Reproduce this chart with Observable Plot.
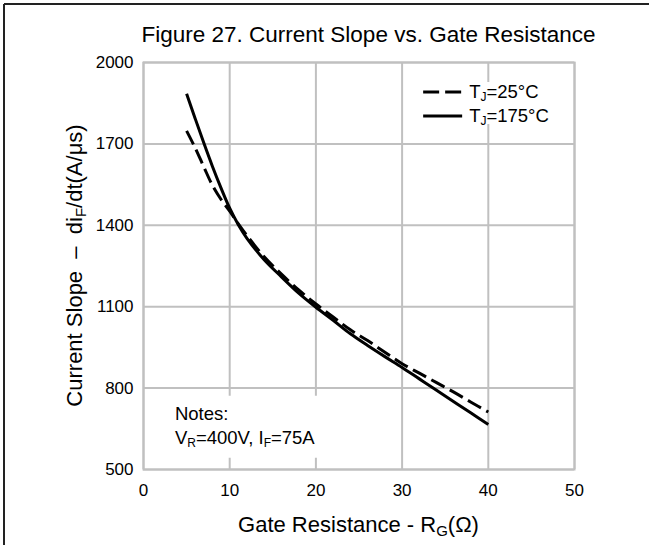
<!DOCTYPE html>
<html>
<head>
<meta charset="utf-8">
<script src="https://cdn.jsdelivr.net/npm/d3@7"></script>
<script src="https://cdn.jsdelivr.net/npm/@observablehq/plot@0.6"></script>
<style>
  html, body { margin: 0; padding: 0; background: #fff; }
  #chart { position: relative; width: 649px; height: 545px; }
  svg text { font-family: "Liberation Sans", Arial, sans-serif; }
</style>
</head>
<body>
<div id="chart"></div>
<script>
// ---- data ----
const rg = [5, 6, 7, 8, 9, 10, 11, 12, 14, 16, 18, 20, 22, 24, 26, 28, 30, 32, 34, 36, 38, 40];
const slope25 = [1748, 1685, 1615, 1547, 1495, 1452, 1405, 1362, 1284, 1220, 1162, 1110, 1062, 1015, 975, 932, 890, 855, 820, 785, 748, 712];
const slope175 = [1885, 1793, 1703, 1617, 1537, 1463, 1402, 1352, 1273, 1210, 1150, 1098, 1050, 1000, 957, 916, 876, 834, 792, 750, 708, 666];
const xTicks = [0, 10, 20, 30, 40, 50];
const yTicks = [500, 800, 1100, 1400, 1700, 2000];
const seriesNames = ["25°C", "175°C"];

const d25 = rg.map((r, i) => ({ r, v: slope25[i] }));
const d175 = rg.map((r, i) => ({ r, v: slope175[i] }));

const gridColor = "#c0c0c0";
const fontFam = '"Liberation Sans", Arial, sans-serif';

const plot = Plot.plot({
  width: 649,
  height: 545,
  marginLeft: 143,
  marginRight: 75,
  marginTop: 62,
  marginBottom: 76,
  style: { fontFamily: fontFam, fontSize: "17px", color: "#000", background: "#fff" },
  x: { domain: [0, 50] },
  y: { domain: [500, 2000] },
  marks: [
    Plot.gridX(xTicks, { stroke: gridColor, strokeOpacity: 1, strokeWidth: 2 }),
    Plot.gridY(yTicks, { stroke: gridColor, strokeOpacity: 1, strokeWidth: 2 }),
    Plot.frame({ stroke: gridColor, strokeWidth: 2 }),
    Plot.axisX(xTicks, { tickSize: 0, tickPadding: 14, fontSize: 17, label: null, tickFormat: d => String(d) }),
    Plot.axisY(yTicks, { tickSize: 0, tickPadding: 10, fontSize: 17, label: null, tickFormat: d => String(d) }),
    Plot.line(d25, { x: "r", y: "v", stroke: "#000", strokeWidth: 3, strokeDasharray: "15,6", curve: "catmull-rom", strokeLinecap: "butt" }),
    Plot.line(d175, { x: "r", y: "v", stroke: "#000", strokeWidth: 3, curve: "catmull-rom", strokeLinecap: "butt" })
  ]
});

document.getElementById("chart").appendChild(plot);

const svg = d3.select(plot);
const xs = plot.scale("x"), ys = plot.scale("y");
const X = v => xs.apply(v), Y = v => ys.apply(v);
const pLeft = X(0), pRight = X(50), pTop = Y(2000), pBottom = Y(500);
const cx = (pLeft + pRight) / 2, cy = (pTop + pBottom) / 2;

// outer frame lines (top & left)
svg.append("line").attr("x1", 4).attr("x2", 649).attr("y1", 4).attr("y2", 4).attr("stroke", "#222").attr("stroke-width", 2);
svg.append("line").attr("x1", 4).attr("x2", 4).attr("y1", 4).attr("y2", 545).attr("stroke", "#222").attr("stroke-width", 2);

// title
svg.append("text").attr("x", cx + 10).attr("y", pTop - 20).attr("text-anchor", "middle")
  .attr("font-size", 22.5).attr("fill", "#000").text("Figure 27. Current Slope vs. Gate Resistance");

// x label
const xl = svg.append("text").attr("x", cx).attr("y", pBottom + 63).attr("text-anchor", "middle")
  .attr("font-size", 22).attr("fill", "#000");
xl.append("tspan").text("Gate Resistance - R");
xl.append("tspan").attr("font-size", 15).attr("dy", 4).text("G");
xl.append("tspan").attr("dy", -4).text("(Ω)");

// y label
const yl = svg.append("text").attr("transform", `translate(${pLeft - 61},${cy}) rotate(-90)`)
  .attr("text-anchor", "middle").attr("font-size", 22).attr("fill", "#000");
yl.append("tspan").text("Current Slope\u00A0\u00A0\u2013\u00A0\u00A0di");
yl.append("tspan").attr("font-size", 15).attr("dy", 4).text("F");
yl.append("tspan").attr("dy", -4).text("/dt(A/μs)");

// legend
const lgX = X(32.5), lgY0 = pTop + 30;
svg.append("rect").attr("x", lgX - 8).attr("y", pTop + 20).attr("width", pRight - lgX + 2).attr("height", 42).attr("fill", "#fff");
seriesNames.forEach((name, i) => {
  const yy = lgY0 + i * 24;
  const ln = svg.append("line").attr("x1", lgX).attr("x2", lgX + 39).attr("y1", yy).attr("y2", yy)
    .attr("stroke", "#000").attr("stroke-width", 3);
  if (i === 0) ln.attr("stroke-dasharray", "16,6");
  const t = svg.append("text").attr("x", lgX + 46).attr("y", yy + 6).attr("text-anchor", "start")
    .attr("font-size", 18.5).attr("fill", "#000");
  t.append("tspan").text("T");
  t.append("tspan").attr("font-size", 12).attr("dy", 3).text("J");
  t.append("tspan").attr("dy", -3).text("=" + name);
});

// notes
const nX = X(3.7);
svg.append("rect").attr("x", nX - 7).attr("y", Y(770)).attr("width", 162).attr("height", 62).attr("fill", "#fff");
svg.append("text").attr("x", nX).attr("y", Y(680)).attr("text-anchor", "start").attr("font-size", 18.5).attr("fill", "#000").text("Notes:");
const n2 = svg.append("text").attr("x", nX).attr("y", Y(592)).attr("text-anchor", "start").attr("font-size", 18.5).attr("fill", "#000");
n2.append("tspan").text("V");
n2.append("tspan").attr("font-size", 12).attr("dy", 3).text("R");
n2.append("tspan").attr("dy", -3).text("=400V, I");
n2.append("tspan").attr("font-size", 12).attr("dy", 3).text("F");
n2.append("tspan").attr("dy", -3).text("=75A");
</script>
</body>
</html>
